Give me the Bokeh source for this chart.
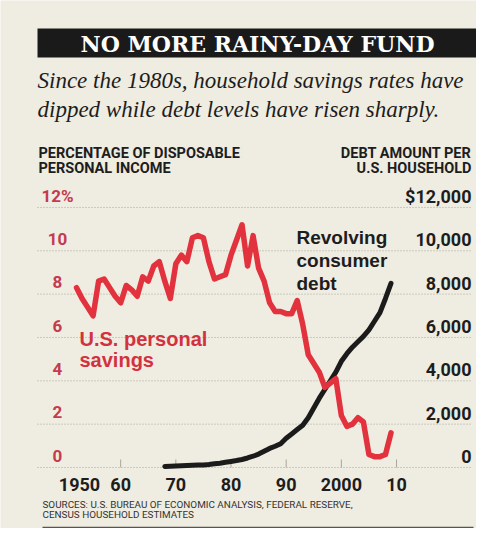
from bokeh.plotting import figure
from bokeh.models import Range1d, ColumnDataSource
from bokeh.core.properties import value
from bokeh.embed import file_html
from bokeh.resources import INLINE

# ---------------- data ----------------
save_years = list(range(1952, 2010))
save_rate = [8.3, 7.8, 7.4, 7.0, 8.6, 8.7, 8.3, 7.9, 7.6, 8.4,
             8.2, 7.9, 8.8, 8.6, 9.3, 9.5, 8.6, 7.8, 9.4, 9.8,
             9.5, 10.6, 10.7, 10.6, 9.5, 8.7, 8.8, 8.9, 9.8, 10.5,
             11.2, 9.3, 10.7, 9.2, 8.6, 7.6, 7.2, 7.2, 7.1, 7.1,
             7.7, 6.6, 5.2, 4.8, 4.4, 3.7, 3.9, 4.1, 2.4, 1.9,
             2.0, 2.3, 2.1, 0.6, 0.5, 0.5, 0.6, 1.6]

debt_years = list(range(1968, 2010))
debt_amount = [50, 60, 70, 80, 90, 100, 110, 120, 140, 170,
               200, 240, 280, 320, 370, 440, 520, 620, 750, 880,
               980, 1100, 1350, 1550, 1750, 1950, 2300, 2750, 3200, 3600,
               4000, 4400, 4900, 5250, 5550, 5800, 6050, 6350, 6750, 7150,
               7800, 8500]

pct_ticks = [0, 2, 4, 6, 8, 10, 12]
pct_labels = ["0", "2", "4", "6", "8", "10", "12%"]
debt_ticks = [0, 2000, 4000, 6000, 8000, 10000, 12000]
debt_labels = ["0", "2,000", "4,000", "6,000", "8,000", "10,000", "$12,000"]
year_ticks = [1950, 1960, 1970, 1980, 1990, 2000, 2010]
year_labels = ["1950", "60", "70", "80", "90", "2000", "10"]

title_text = "NO MORE RAINY-DAY FUND"
subtitle_lines = ["Since the 1980s, household savings rates have",
                  "dipped while debt levels have risen sharply."]
left_title = ["PERCENTAGE OF DISPOSABLE", "PERSONAL INCOME"]
right_title = ["DEBT AMOUNT PER", "U.S. HOUSEHOLD"]
save_name = ["U.S. personal", "savings"]
debt_name = ["Revolving", "consumer", "debt"]
source_lines = ["SOURCES: U.S. BUREAU OF ECONOMIC ANALYSIS, FEDERAL RESERVE,",
                "CENSUS HOUSEHOLD ESTIMATES"]

# ---------------- geometry (screen pixels) ----------------
W, H = 476, 528
PX_YEAR = 5.517      # px per year
X1950 = 65           # screen x of 1950
PX_PCT = 21.67       # px per percentage point
Y0 = 467             # screen y of zero line
BASE_K = 0.34        # baseline correction (fraction of font size)


def X(xp):
    return 1950 + (xp - X1950) / PX_YEAR


def Y(yp):
    return (Y0 - yp) / PX_PCT


BG = "#efece1"
INK = "#1d1d1d"
RED = "#e2323d"
LRED = "#c43b4e"
COND = "Roboto"

p = figure(width=W, height=H, output_backend="svg", toolbar_location=None,
           x_range=Range1d(X(0), X(W)),
           y_range=Range1d(Y(H), Y(0)),
           x_axis_location=None, y_axis_location=None,
           min_border=0, min_border_left=0, min_border_right=0,
           min_border_top=0, min_border_bottom=0,
           background_fill_color=BG, border_fill_color=BG)
p.outline_line_color = None
p.grid.visible = False
p.extra_y_ranges = {"debt": Range1d(Y(H) * 1000, Y(0) * 1000)}


def txt(xp, yp, s, size, color=INK, font="Liberation Sans", style="bold",
        align="left"):
    p.text(x=[X(xp)], y=[Y(yp - BASE_K * size)], text=[s], text_font=value(font),
           text_font_size=value(f"{size}px"), text_font_style=style,
           text_color=color, text_align=align, text_baseline="alphabetic")


# title bar
p.quad(left=[X(37)], right=[X(476)], top=[Y(28)], bottom=[Y(57)],
       fill_color="#1a1a1a", line_color=None)
txt(257, 51, title_text, 22, color="white", font="DejaVu Serif", align="center")

# subtitle
for i, s in enumerate(subtitle_lines):
    txt(37, 88 + 29 * i, s, 23, font="Liberation Serif", style="italic")

# axis titles
for i, s in enumerate(left_title):
    txt(38, 158 + 15 * i, s, 14.5, font=COND)
for i, s in enumerate(right_title):
    txt(471, 158 + 15 * i, s, 14.5, font=COND, align="right")

# grid lines (dotted)
p.segment(x0=[X(37)] * len(pct_ticks), x1=[X(472)] * len(pct_ticks),
          y0=pct_ticks, y1=pct_ticks, line_color="#aaa69a", line_width=1,
          line_dash="1 2")

# decade tick marks
p.segment(x0=year_ticks[1:], x1=year_ticks[1:], y0=[0] * 6,
          y1=[8 / PX_PCT] * 6, line_color="#a9a59a", line_width=1)

# left tick labels
TS = 17
src_l = ColumnDataSource(dict(x=[X(57)] * len(pct_ticks), y=pct_ticks, t=pct_labels))
p.text(x="x", y="y", text="t", source=src_l, text_font=value(COND),
       text_font_size=value(f"{TS}px"), text_font_style="bold", text_color=LRED,
       text_align="center", text_baseline="alphabetic", y_offset=-6 - BASE_K * TS)

# right tick labels
RS = 18
src_r = ColumnDataSource(dict(x=[X(471)] * len(debt_ticks), y=debt_ticks, t=debt_labels))
p.text(x="x", y="y", text="t", source=src_r, y_range_name="debt",
       text_font=value(COND), text_font_size=value(f"{RS}px"),
       text_font_style="bold", text_color=INK, text_align="right",
       text_baseline="alphabetic", y_offset=-5 - BASE_K * RS)

# x labels
XS = 18
x_off = [14, 0, 0, 0, 0, 0, 0]
src_x = ColumnDataSource(dict(x=year_ticks, y=[Y(490 - BASE_K * XS)] * len(year_ticks),
                              t=year_labels, o=x_off))
p.text(x="x", y="y", text="t", source=src_x, x_offset="o",
       text_font=value(COND), text_font_size=value(f"{XS}px"),
       text_font_style="bold", text_color=INK, text_align="center",
       text_baseline="alphabetic")

# series
p.line(debt_years, debt_amount, y_range_name="debt", line_color="#1b1b1b",
       line_width=5, line_join="round", line_cap="round")
p.line(save_years, save_rate, line_color=RED, line_width=5.5,
       line_join="round", line_cap="round")

# series labels
for i, s in enumerate(save_name):
    txt(79, 345 + 21 * i, s, 20, color="#d2323f")
for i, s in enumerate(debt_name):
    txt(296, 243 + 23 * i, s, 19)

# sources
for i, s in enumerate(source_lines):
    txt(42, 507 + 10.5 * i, s, 9.9, color="#333333", font=COND, style="normal")
p.segment(x0=[X(42)], x1=[X(473)], y0=[Y(527)], y1=[Y(527)],
          line_color="#555555", line_width=1.5)

open("out.html", "w").write(file_html(p, INLINE))
